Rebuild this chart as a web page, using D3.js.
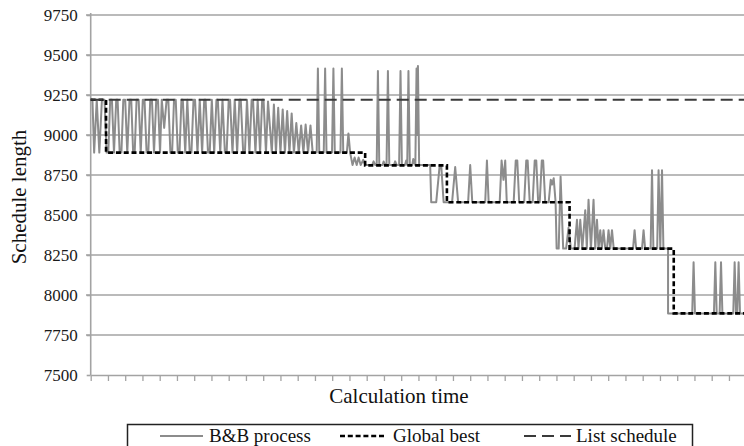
<!DOCTYPE html>
<html><head><meta charset="utf-8">
<script src="https://cdn.jsdelivr.net/npm/d3@7"></script>
<style>
html,body{margin:0;padding:0;background:#fff;}
svg{display:block;}
svg text{font-family:"Liberation Serif","Times New Roman",serif;}
</style></head>
<body>
<script>
// ---- data (calculation time in arbitrary units, ticks every 10) ----
const yTicks = [7500, 7750, 8000, 8250, 8500, 8750, 9000, 9250, 9500, 9750];
const xTicks = d3.range(0, 381, 10);
const xTitle = "Calculation time";
const yTitle = "Schedule length";
const seriesNames = ["B&B process", "Global best", "List schedule"];

const listSchedule = [[0, 9220], [380, 9220]];

const globalBest = [[0, 9220], [8.9, 9220], [8.9, 8890], [159.1, 8890], [159.1, 8810],
  [206.5, 8810], [206.5, 8580], [277.6, 8580], [277.6, 8290], [338, 8290], [338, 7885], [380, 7885]];

const bbProcess = [
  [0,9220],[1,9220],[2,8890],[3.5,9220],[5,8890],[6.5,9220],[8,9220],
  [9.2,8890],[10.2,8890],[11.3,9220],[12.3,9220],[13.5,8890],[14.8,9220],[15.6,9220],[16.8,8890],[17.8,8890],
  [18.9,9220],[20,9220],[21.2,8890],[22.5,9220],[23.5,9220],[24.6,8890],[25.5,8890],[26.6,9220],[27.8,9220],
  [29,8890],[30.2,9220],[31.2,9220],[32.4,8890],[33.4,8890],[34.5,9220],[35.5,9220],[36.7,8890],[38,9220],
  [39,9220],[40.2,8890],[41.2,9220],[42.6,9045],[44,9220],[45,9220],[46.2,8890],[47.2,8890],[48.3,9220],
  [49.3,9220],[50.5,8890],[51.5,8890],
  [52.6,9220],[53.4,9220],[54.8,8890],[56,9220],[57.4,8890],[58.4,8890],[59.6,9220],[60.5,9220],[61.9,8890],
  [63.2,9220],[64.6,8890],[65.8,9220],[66.6,9220],[68,8890],[69,8890],[70.2,9220],[71.6,8890],[72.9,9220],
  [73.7,9220],[75.1,8890],[76.4,9220],[77.8,8890],[78.8,8890],[80,9220],[80.8,9220],[82.2,8890],[83.5,9220],
  [84.9,8890],[86.2,9220],[87,9220],[88.4,8890],[89.4,8890],[90.6,9220],[92,8890],[93.3,9220],[94.1,9220],
  [95.5,8890],[96.8,9220],[98.2,8890],[99.4,9220],[100.2,9220],[101.6,8890],[102.8,9210],
  [105,8890],[106.2,9190],[107.4,8890],[108.7,9170],[110,8890],[111.3,9160],[112.6,8890],[113.9,9150],
  [115.2,8890],[116.5,9135],[117.8,8890],[119.2,9075],[120.6,8890],[122,9060],[123.3,8890],[124.6,9065],
  [126,8890],[127.4,9060],[128.7,8890],
  [131,8890],[131.7,9415],[132.5,8890],[135.1,8890],[135.9,9415],[136.7,8890],[139.9,8890],[140.7,9415],
  [141.5,8890],[144.8,8890],[145.6,9415],[146.4,8890],[148.5,8890],[149.4,9010],[150.4,8890],
  [151.8,8812],[153,8860],[154.2,8812],[155.3,8860],[156.5,8812],[158,8845],[159.1,8812],[163.2,8812],
  [164,8835],[165,8812],[165.8,8812],[166.5,9400],[167.3,8812],[169.2,8812],[169.8,8835],[170.7,8812],
  [171.5,8812],[172.3,9400],[173.1,8812],[175.8,8812],[176.5,8835],[177.4,8812],[178.8,8812],[179.6,9400],
  [180.4,8812],[182.2,8812],[182.9,8840],[183.5,8812],[184.2,9400],[185,8812],[186.4,8812],[187,8850],
  [188.2,8812],[188.9,9415],[189.3,9000],[189.7,9432],[190.4,8812],
  [196.8,8812],[197.4,8580],[200.3,8580],[202.3,8810],[203.2,8810],[204.6,8580],[209.5,8580],[211.3,8800],
  [213,8580],[218.8,8580],[220,8812],[221.2,8580],[228.7,8580],[229.7,8840],[230.7,8580],[237.1,8580],
  [238.2,8840],[239.3,8720],[240.3,8840],[241.2,8580],[245.2,8580],[246.4,8840],[247.3,8840],[248.4,8580],
  [251.3,8580],[252.5,8840],[253.3,8840],[254.5,8580],[256.2,8580],[257.4,8840],[258.3,8840],[259.4,8580],
  [260.3,8580],[261.5,8840],[262.3,8840],[263.5,8580],[265.5,8580],[266.7,8720],[267.5,8690],[268.4,8730],
  [269.5,8580],[270.1,8290],[271.3,8290],[272.4,8740],[273.9,8290],
  [275.6,8290],[277,8420],[278.4,8290],[280.5,8290],[281.9,8470],[282.8,8290],[283.8,8470],[285,8290],
  [286.7,8530],[287.6,8290],[288.6,8595],[290,8290],[291.5,8595],[292.5,8290],[293.5,8470],[294.4,8290],
  [295.4,8405],[296.3,8290],[297.3,8405],[298.3,8290],[299.3,8290],[300.2,8405],[301.2,8290],[302.2,8405],
  [303.2,8290],[314.4,8290],[315.3,8405],[316.2,8290],[319.6,8290],[320.5,8405],[321.4,8290],[324.6,8290],
  [325.4,8780],[326.2,8290],[328.4,8290],[329.2,8780],[330.2,8290],[331.2,8780],[332,8290],[334.7,8290],
  [334.7,7885],[348.7,7885],[349.5,8205],[350.3,7885],[361.3,7885],[362.1,8205],[362.9,7885],[364.6,7885],
  [365.4,8205],[366.2,7885],[372.5,7885],[373.3,8205],[374.1,7885],[374.8,7885],[375.6,8205],[376.4,7885],
  [380,7885]
];

// ---- drawing ----
const W = 744, H = 446;
const svg = d3.select("body").append("svg").attr("width", W).attr("height", H);
const x = d3.scaleLinear().domain([0, 380]).range([90.7, 746.2]);
const y = d3.scaleLinear().domain([7500, 9750]).range([375, 15]);
const gridCol = "#a3a3a3";
const serif = '"Liberation Serif","Times New Roman",serif';

// gridlines
svg.append("g").selectAll("line").data(yTicks.filter(d => d > 7500)).join("line")
  .attr("x1", 86).attr("x2", W).attr("y1", d => y(d)).attr("y2", d => y(d))
  .attr("stroke", gridCol).attr("stroke-width", 1.6);

// y axis (labels)
const yAx = svg.append("g").attr("transform", `translate(${x(0)},0)`)
  .call(d3.axisLeft(y).tickValues(yTicks).tickSizeInner(4).tickSizeOuter(0).tickPadding(9).tickFormat(d3.format("d")));
yAx.attr("font-family", null).attr("font-size", null);
yAx.select(".domain").attr("stroke", gridCol).attr("stroke-width", 1.6)
  .attr("d", `M0,${y(9750) - 2}V${y(7500)}`);
yAx.selectAll(".tick line").attr("stroke", gridCol).attr("stroke-width", 1.6);
yAx.selectAll(".tick text").style("font-family", serif)
  .style("font-size", "17px").attr("fill", "#1a1a1a");

// x axis
const xAx = svg.append("g").attr("transform", `translate(0,${y(7500)})`)
  .call(d3.axisBottom(x).tickValues(xTicks).tickSizeInner(6).tickSizeOuter(0).tickFormat(""));
xAx.select(".domain").attr("stroke", gridCol).attr("stroke-width", 1.6);
xAx.selectAll(".tick line").attr("stroke", gridCol).attr("stroke-width", 1.3);

// series
const line = d3.line().x(d => x(d[0])).y(d => y(d[1]));
svg.append("path").datum(bbProcess).attr("d", line).attr("fill", "none")
  .attr("stroke", "#8c8c8c").attr("stroke-width", 2).attr("stroke-linejoin", "round");
svg.append("path").datum(globalBest).attr("d", line).attr("fill", "none")
  .attr("stroke", "#000").attr("stroke-width", 2.6).attr("stroke-dasharray", "5,2.8");
svg.append("path").datum(listSchedule).attr("d", line).attr("fill", "none")
  .attr("stroke", "#3a3a3a").attr("stroke-width", 2).attr("stroke-dasharray", "12,6");

// axis titles
svg.append("text").attr("x", 399).attr("y", 403).attr("text-anchor", "middle")
  .style("font-size", "21px").attr("fill", "#111").text(xTitle);
svg.append("text").attr("transform", "translate(26,197) rotate(-90)").attr("text-anchor", "middle")
  .style("font-size", "21px").attr("fill", "#111").text(yTitle);

// legend
const lg = svg.append("g");
lg.append("rect").attr("x", 127.5).attr("y", 424.5).attr("width", 565).attr("height", 40)
  .attr("fill", "#fff").attr("stroke", "#222").attr("stroke-width", 1.5);
const items = [
  {name: seriesNames[0], x1: 160, x2: 203, tx: 209, stroke: "#8c8c8c", w: 2, dash: null},
  {name: seriesNames[1], x1: 340, x2: 386, tx: 393, stroke: "#000", w: 2.6, dash: "5,2.8"},
  {name: seriesNames[2], x1: 524, x2: 571, tx: 576, stroke: "#3a3a3a", w: 2, dash: "12,6"}
];
const li = lg.selectAll("g.item").data(items).join("g").attr("class", "item");
li.append("line").attr("x1", d => d.x1).attr("x2", d => d.x2).attr("y1", 436).attr("y2", 436)
  .attr("stroke", d => d.stroke).attr("stroke-width", d => d.w).attr("stroke-dasharray", d => d.dash);
li.append("text").attr("x", d => d.tx).attr("y", 442).style("font-size", "19px").attr("fill", "#111")
  .text(d => d.name);
</script>
</body></html>
